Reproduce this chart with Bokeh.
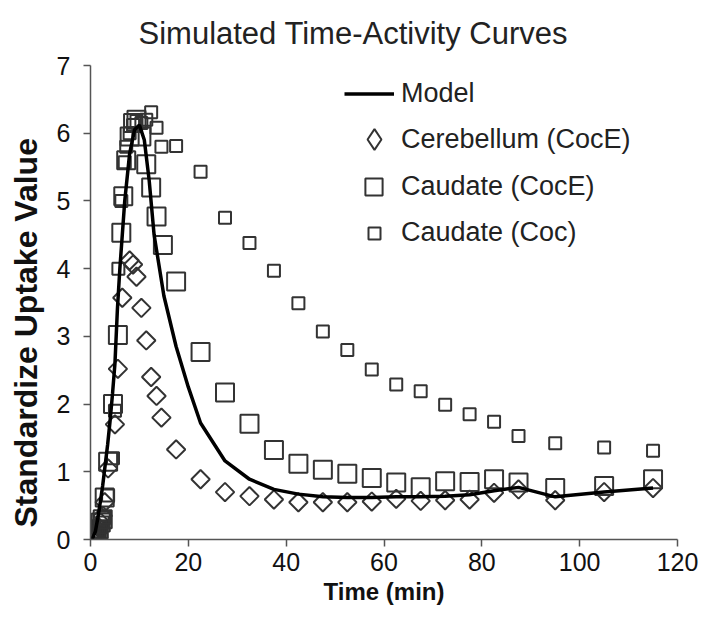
import math
from bokeh.plotting import figure
from bokeh.models import Range1d, Legend, LegendItem, FixedTicker, ColumnDataSource, Title
from bokeh.embed import file_html
from bokeh.resources import INLINE

# ---- data ----
model_t = [0, 0.5, 1.0, 1.5, 2.0, 2.5, 3.0, 3.5, 4.0, 4.5, 5.0, 5.5, 6.0, 6.5, 7.0, 8.0, 9.0,
           10.0, 11.0, 12.0, 13.0, 14.0, 15.0, 17.5, 20.0, 22.5, 27.5, 32.5, 37.5, 42.5, 47.5,
           52.5, 57.5, 62.5, 67.5, 72.5, 77.5, 82.5, 87.5, 95, 105, 115]
model_v = [0.0, 0.03, 0.12, 0.32, 0.55, 0.8, 1.1, 1.4, 1.75, 2.15, 2.6, 3.4, 4.0, 4.5, 5.0, 5.7, 6.05,
           6.12, 5.9, 5.3, 4.5, 4.05, 3.6, 2.85, 2.25, 1.72, 1.16, 0.89, 0.74, 0.67, 0.63,
           0.62, 0.62, 0.63, 0.63, 0.64, 0.66, 0.72, 0.77, 0.63, 0.70, 0.76]

cereb_t = [0.3, 0.6, 0.9, 1.3, 1.7, 2.1, 2.5, 2.9, 3.6, 5.0, 5.6, 6.5, 8.0, 8.7, 9.4, 10.4, 11.4,
           12.4, 13.5, 14.5, 17.5, 22.5, 27.5, 32.5, 37.5, 42.5, 47.5, 52.5, 57.5, 62.5, 67.5,
           72.5, 77.5, 82.5, 87.5, 95, 105, 115]
cereb_v = [0.0, 0.02, 0.05, 0.1, 0.18, 0.25, 0.35, 0.55, 1.05, 1.7, 2.52, 3.57, 4.12, 4.06, 3.88, 3.42, 2.94,
           2.40, 2.12, 1.80, 1.33, 0.89, 0.70, 0.64, 0.59, 0.55, 0.55, 0.55, 0.56, 0.60, 0.57,
           0.58, 0.59, 0.69, 0.74, 0.58, 0.70, 0.76]

caud_e_t = [0.3, 0.6, 0.9, 1.3, 1.7, 2.1, 2.5, 2.9, 3.6, 4.6, 5.6, 6.3, 6.7, 7.3, 8.0, 8.7, 9.4, 10.4,
            11.4, 12.4, 13.5, 14.8, 17.5, 22.5, 27.5, 32.5, 37.5, 42.5, 47.5, 52.5, 57.5, 62.5,
            67.5, 72.5, 77.5, 82.5, 87.5, 95, 105, 115]
caud_e_v = [0.0, 0.02, 0.05, 0.1, 0.15, 0.25, 0.3, 0.62, 1.15, 2.0, 3.02, 4.53, 5.07, 5.6, 5.95, 6.15, 6.2, 5.95,
            5.54, 5.20, 4.77, 4.35, 3.81, 2.77, 2.17, 1.71, 1.32, 1.12, 1.03, 0.97, 0.91, 0.84,
            0.77, 0.86, 0.85, 0.89, 0.84, 0.76, 0.79, 0.89]

caud_t = [0.3, 0.6, 0.9, 1.3, 1.7, 2.1, 2.5, 2.9, 3.6, 4.6, 5.0, 5.7, 6.3, 7.0, 7.3, 8.0, 8.7, 9.4,
          10.4, 11.4, 12.4, 13.5, 14.5, 17.5, 22.5, 27.5, 32.5, 37.5, 42.5, 47.5, 52.5, 57.5,
          62.5, 67.5, 72.5, 77.5, 82.5, 87.5, 95, 105, 115]
caud_v = [0.0, 0.0, 0.03, 0.08, 0.12, 0.18, 0.25, 0.32, 0.65, 1.2, 1.9, 4.0, 5.0, 5.57, 5.8, 6.0, 6.12, 6.18,
          6.15, 6.2, 6.31, 6.08, 5.80, 5.81, 5.43, 4.75, 4.38, 3.97, 3.49, 3.07, 2.80, 2.51,
          2.29, 2.19, 1.99, 1.85, 1.74, 1.53, 1.42, 1.36, 1.31]

x_ticks = [0, 20, 40, 60, 80, 100, 120]
y_ticks = [0, 1, 2, 3, 4, 5, 6, 7]

title_text = "Simulated Time-Activity Curves"
x_label = "Time (min)"
y_label = "Standardize Uptake Value"
names = ["Model", "Cerebellum (CocE)", "Caudate (CocE)", "Caudate (Coc)"]

FONT = "Liberation Sans"
MARK = "#333333"

p = figure(width=700, height=630, output_backend="svg", toolbar_location=None,
           x_range=Range1d(0, 120), y_range=Range1d(0, 7),
           min_border_left=89, min_border_right=23, min_border_top=65, min_border_bottom=91)
p.outline_line_color = None
p.xgrid.grid_line_color = None
p.ygrid.grid_line_color = None
p.background_fill_color = "white"

p.title.text = title_text
p.title.text_font = FONT
p.title.text_font_size = "31px"
p.title.text_font_style = "normal"
p.title.text_color = "#222222"
p.title.align = "left"
p.title.offset = 48
p.title.vertical_align = "top"
p.title.standoff = 26

for ax in (p.xaxis[0], p.yaxis[0]):
    ax.axis_line_color = "#555555"
    ax.axis_line_width = 1.5
    ax.major_tick_line_color = "#555555"
    ax.major_tick_line_width = 1.5
    ax.major_tick_in = 0
    ax.major_tick_out = 7
    ax.minor_tick_line_color = None
    ax.major_label_text_font = FONT
    ax.major_label_text_font_size = "25px"
    ax.major_label_text_color = "#111111"

p.xaxis.ticker = FixedTicker(ticks=x_ticks)
p.yaxis.ticker = FixedTicker(ticks=y_ticks)
p.xaxis.major_label_standoff = 6
p.yaxis.major_label_standoff = 13
p.xaxis.axis_label = x_label
p.xaxis.axis_label_text_font = FONT
p.xaxis.axis_label_text_font_size = "24px"
p.xaxis.axis_label_text_font_style = "bold"
p.xaxis.axis_label_text_color = "#111111"
p.xaxis.axis_label_standoff = 4

ytitle = Title(text=y_label, align="left", offset=12, vertical_align="top", standoff=15,
               text_font=FONT, text_font_size="32px", text_font_style="bold",
               text_color="#111111")
p.add_layout(ytitle, "left")

src_c = ColumnDataSource(dict(t=cereb_t, v=cereb_v))
src_e = ColumnDataSource(dict(t=caud_e_t, v=caud_e_v))
src_k = ColumnDataSource(dict(t=caud_t, v=caud_v))
src_m = ColumnDataSource(dict(t=model_t, v=model_v))

r_c = p.scatter("t", "v", source=src_c, marker="square", angle=math.pi / 4, size=13,
                fill_color="white", fill_alpha=0.0, line_color=MARK, line_width=2)
r_e = p.scatter("t", "v", source=src_e, marker="square", size=18,
                fill_color="white", fill_alpha=0.0, line_color=MARK, line_width=2)
r_k = p.scatter("t", "v", source=src_k, marker="square", size=12,
                fill_color="white", fill_alpha=0.0, line_color=MARK, line_width=2)
r_m = p.line("t", "v", source=src_m, line_color="black", line_width=3.5)
# legend key for the diamonds (hidden in the plot; only its legend glyph is shown)
r_c_key = p.scatter("t", "v", source=src_c, marker="diamond", size=13, visible=False,
                    fill_color="white", fill_alpha=0.0, line_color=MARK, line_width=2)


def make_legend(label, renderer, glyph_w, glyph_h, standoff, loc):
    lg = Legend(items=[LegendItem(label=label, renderers=[renderer])], location=loc)
    lg.glyph_width = glyph_w
    lg.glyph_height = glyph_h
    lg.label_height = glyph_h
    lg.spacing = 0
    lg.padding = 0
    lg.margin = 0
    lg.label_standoff = standoff
    lg.label_text_font = FONT
    lg.label_text_font_size = "27px"
    lg.label_text_color = "#222222"
    lg.border_line_color = None
    lg.background_fill_alpha = 0.0
    lg.inactive_fill_alpha = 0.0
    p.add_layout(lg)


make_legend(names[0], r_m, 50, 47, 7, (254, 422))
make_legend(names[1], r_c_key, 52, 52, 1, (258, 374))
make_legend(names[2], r_e, 43, 43, 6, (262, 331))
make_legend(names[3], r_k, 30, 30, 12, (269, 291))

open("out.html", "w").write(file_html(p, INLINE))
